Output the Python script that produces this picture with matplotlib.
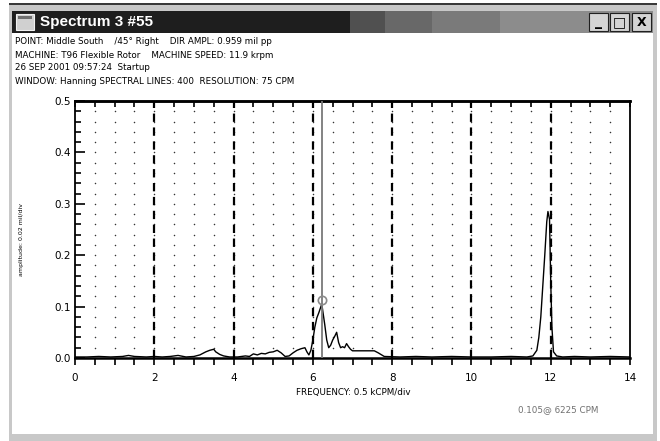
"""Recreate a vibration-analyser spectrum window (Spectrum 3 #55)."""

import matplotlib

matplotlib.use("Agg")
import matplotlib.pyplot as plt
import numpy as np
from matplotlib.patches import Rectangle
from matplotlib.ticker import MultipleLocator

plt.rcParams["lines.scale_dashes"] = False

# ---- data (kCPM vs mils pp) ----
freq = [0.0, 0.3, 0.6, 0.9, 1.2, 1.35, 1.5, 1.8, 2.0, 2.2, 2.4, 2.6, 2.8,
        3.0, 3.15, 3.3, 3.4, 3.5, 3.55, 3.65, 3.75, 3.9, 4.1, 4.3, 4.4,
        4.5, 4.6, 4.7, 4.8, 4.9, 5.0, 5.1, 5.2, 5.3, 5.4, 5.5, 5.6, 5.7,
        5.8, 5.85, 5.9, 5.95, 6.0, 6.05, 6.1, 6.15, 6.225, 6.3, 6.35, 6.4,
        6.45, 6.5, 6.55, 6.6, 6.65, 6.7, 6.75, 6.8, 6.85, 6.9, 6.95, 7.0,
        7.3, 7.55, 7.65, 7.8, 8.2, 8.6, 9.0, 9.5, 10.0, 10.5, 11.0, 11.4,
        11.55, 11.65, 11.7, 11.75, 11.8, 11.85, 11.9, 11.93, 11.97, 12.0,
        12.03, 12.07, 12.15, 12.3, 12.6, 13.0, 13.5, 14.0]
ampl = [0.002, 0.002, 0.003, 0.002, 0.003, 0.005, 0.003, 0.002, 0.003,
        0.002, 0.003, 0.005, 0.002, 0.003, 0.006, 0.012, 0.015, 0.017,
        0.012, 0.007, 0.004, 0.002, 0.002, 0.004, 0.003, 0.008, 0.006,
        0.009, 0.008, 0.011, 0.012, 0.015, 0.010, 0.003, 0.004, 0.010,
        0.015, 0.018, 0.020, 0.012, 0.006, 0.015, 0.035, 0.060, 0.078,
        0.088, 0.105, 0.065, 0.035, 0.020, 0.025, 0.035, 0.042, 0.050,
        0.030, 0.020, 0.022, 0.020, 0.028, 0.022, 0.017, 0.014, 0.014,
        0.014, 0.010, 0.003, 0.002, 0.003, 0.002, 0.003, 0.002, 0.002,
        0.003, 0.002, 0.004, 0.015, 0.040, 0.080, 0.140, 0.200, 0.265,
        0.285, 0.270, 0.150, 0.060, 0.012, 0.004, 0.002, 0.003, 0.002,
        0.003, 0.002]

peak_freq = 6.225      # kCPM
peak_ampl = 0.105      # mils pp
header_lines = [
    "POINT: Middle South    /45\u00b0 Right    DIR AMPL: 0.959 mil pp",
    "MACHINE: T96 Flexible Rotor    MACHINE SPEED: 11.9 krpm",
    "26 SEP 2001 09:57:24  Startup",
    "WINDOW: Hanning SPECTRAL LINES: 400  RESOLUTION: 75 CPM",
]
x_ticks = [0, 2, 4, 6, 8, 10, 12, 14]
y_ticks = [0.0, 0.1, 0.2, 0.3, 0.4, 0.5]

W, H = 660, 441


def fx(x):
    return x / W


def fy(y):
    return 1 - y / H


def box(fig, x0, y0, x1, y1, **kw):
    fig.add_artist(Rectangle((fx(x0), fy(y1)), fx(x1) - fx(x0), fy(y0) - fy(y1),
                             transform=fig.transFigure, zorder=-5, **kw))


fig = plt.figure(figsize=(6.6, 4.41), dpi=100, facecolor="white")

# ---- window chrome ----
box(fig, 9, 3, 657, 441, facecolor="#c8c8c8", edgecolor="none")
box(fig, 9, 3, 657, 5, facecolor="#3a3a3a", edgecolor="none")
box(fig, 12, 33, 653, 434, facecolor="white", edgecolor="none")
# title bar, dark going to grey on the right
box(fig, 12, 11, 653, 33, facecolor="#1e1e1e", edgecolor="none")
for x0, x1, c in [(350, 385, "#505050"), (385, 432, "#686868"),
                  (432, 500, "#7a7a7a"), (500, 653, "#8c8c8c")]:
    box(fig, x0, 11, x1, 33, facecolor=c, edgecolor="none")
box(fig, 16, 14, 34, 30, facecolor="#d0d0d0", edgecolor="#f0f0f0", lw=0.8)
box(fig, 18, 16, 32, 19, facecolor="#707070", edgecolor="none")
fig.text(fx(40), fy(22), "Spectrum 3 #55", color="white", fontsize=11,
         fontweight="bold", family="Liberation Sans", va="center", ha="left")
for x0, sym in [(589, "_"), (610, "\u25a1"), (632, "X")]:
    box(fig, x0, 13, x0 + 19, 31, facecolor="#d4d4d4", edgecolor="#202020", lw=0.8)
    fig.text(fx(x0 + 9.5), fy(22), sym, fontsize=10 if sym != "X" else 9,
             fontweight="bold", ha="center", va="center", color="black")

# ---- header text ----
for i, line in enumerate(header_lines):
    fig.text(fx(15), fy(42 + 13 * i), line, fontsize=6.3, ha="left",
             va="center", family="DejaVu Sans")

# ---- plot area ----
ax = fig.add_axes([fx(75), fy(358), fx(630) - fx(75), fy(101) - fy(358)])
ax.set_facecolor("none")
ax.set_zorder(5)
ax.set_xlim(0, 14)
ax.set_ylim(0, 0.5)

# dot lattice at the minor divisions
gx, gy = np.meshgrid(np.arange(0.5, 14, 0.5), np.arange(0.02, 0.5, 0.02))
ax.scatter(gx.ravel(), gy.ravel(), s=1.2, color="#333333", lw=0, zorder=1)
for xv in x_ticks[1:-1]:
    ax.axvline(xv, color="black", lw=1.6, dashes=(6, 4), zorder=2)

ax.plot(freq, ampl, color="black", lw=1.0, zorder=3)
ax.axvline(peak_freq, color="#7a7a7a", lw=1.3, zorder=4)
ax.plot([peak_freq], [peak_ampl + 0.008], marker="o", ms=6, mfc="none",
        mec="#8a8a8a", mew=1.2, zorder=5)

ax.set_xticks(x_ticks)
ax.set_yticks(y_ticks)
ax.set_xticklabels([str(v) for v in x_ticks])
ax.set_yticklabels([f"{v:.1f}" for v in y_ticks])
ax.xaxis.set_minor_locator(MultipleLocator(0.5))
ax.yaxis.set_minor_locator(MultipleLocator(0.02))
ax.tick_params(axis="x", which="both", direction="out", length=5, width=1.2,
               labelsize=7.5, pad=6)
ax.tick_params(axis="y", which="major", direction="in", length=7, width=1.2,
               labelsize=7.5, pad=3)
ax.tick_params(axis="y", which="minor", direction="in", length=4, width=1.2)
# the top border carries small inward ticks as well
top = ax.secondary_xaxis("top")
top.set_xticks(np.arange(0, 14.01, 0.5))
top.tick_params(direction="in", length=4, width=1.2, labeltop=False)
top.set_xticklabels([])
for sp in ["bottom", "top"]:
    ax.spines[sp].set_linewidth(1.8)
top.spines["top"].set_linewidth(1.8)
ax.spines["left"].set_linewidth(1.3)
ax.spines["right"].set_linewidth(1.3)

fig.text(fx(22), fy(240), "amplitude: 0.02 mil/div", rotation=90, fontsize=4.5,
         ha="center", va="center")
fig.text(fx(353), fy(392), "FREQUENCY: 0.5 kCPM/div", fontsize=6.3,
         ha="center", va="center")
fig.text(fx(598), fy(410), "0.105@ 6225 CPM", fontsize=6.3, color="#707070",
         ha="right", va="center")

fig.savefig("out.png", dpi=100, facecolor=fig.get_facecolor())
